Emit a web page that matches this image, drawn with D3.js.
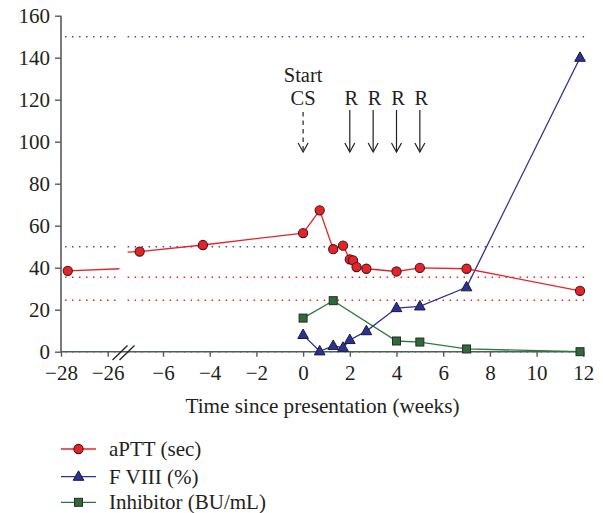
<!DOCTYPE html>
<html>
<head>
<meta charset="utf-8">
<script src="https://cdn.jsdelivr.net/npm/d3@7"></script>
<style>
  html, body { margin: 0; padding: 0; background: #fff; }
  svg { display: block; }
</style>
</head>
<body>
<svg id="chart" width="603" height="513"></svg>
<script>
// ---------- data ----------
const apttWeeks = [-27.71, -7, -4.29, 0, 0.71, 1.29, 1.71, 2, 2.14, 2.29, 2.71, 4, 5, 7, 11.86];
const apttValues = [38.5, 47.7, 50.8, 56.5, 67.3, 48.8, 50.5, 44, 43.5, 40.3, 39.5, 38.2, 39.9, 39.5, 29];
const f8Weeks = [0, 0.71, 1.29, 1.71, 2, 2.71, 4, 5, 7, 11.86];
const f8Values = [8, 0.2, 2.8, 1.9, 5.6, 9.8, 20.8, 21.6, 30.7, 140];
const inhWeeks = [0, 1.29, 4, 5, 7, 11.86];
const inhValues = [16, 24.3, 5.1, 4.6, 1.3, 0];
const leftTicks = [-28, -26];
const rightTicks = [-6, -4, -2, 0, 2, 4, 6, 8, 10, 12];
const yTicks = [0, 20, 40, 60, 80, 100, 120, 140, 160];
const refBlue = [150, 50];
const refRed = [35.5, 24.5];
const refGreen = [0];
const csWeek = [0];
const rWeeks = [2, 3, 4, 5];
const seriesNames = ["aPTT (sec)", "F VIII (%)", "Inhibitor (BU/mL)"];
const xTitle = "Time since presentation (weeks)";

// ---------- layout ----------
const FONT = '"Liberation Serif", "Times New Roman", serif';
const TXT = "#231f20";
const svg = d3.select("#chart");
const X0 = 61, AXIS_END = 584, BREAK_L = 119.4, BREAK_R = 127.6;
const y = d3.scaleLinear().domain([0, 160]).range([351.7, 15.7]);
const xL = d3.scaleLinear().domain([-28, -26]).range([X0, X0 + 46.7]);
const xR = d3.scaleLinear().domain([-6, 12]).range([163, 583.3]);
const xOf = w => (w < -16 ? xL(w) : xR(w));

const COL = {
  red: "#e5232b", redStroke: "#4d1414",
  blue: "#2e3192", blueStroke: "#1a1a45",
  green: "#2b7a3b", greenFill: "#2e6b39", greenStroke: "#2a2a2a",
  axis: "#58595b"
};

function txt(x, yy, s, size, anchor) {
  return svg.append("text").attr("x", x).attr("y", yy)
    .attr("text-anchor", anchor || "start")
    .style("font-family", FONT).style("font-size", size + "px").style("fill", TXT)
    .text(s);
}

const defs = svg.append("defs");
defs.append("clipPath").attr("id", "clipL").append("rect")
  .attr("x", 0).attr("y", 0).attr("width", BREAK_L).attr("height", 513);
defs.append("clipPath").attr("id", "clipR").append("rect")
  .attr("x", BREAK_R).attr("y", 0).attr("width", 603 - BREAK_R).attr("height", 513);

// ---------- reference dotted lines ----------
function refLines(vals, color) {
  vals.forEach(v => {
    [[65, BREAK_L], [BREAK_R, 586]].forEach(([a, b]) => {
      svg.append("line")
        .attr("x1", a).attr("x2", b).attr("y1", y(v)).attr("y2", y(v))
        .attr("stroke", color).attr("stroke-width", 1.5)
        .attr("stroke-dasharray", "1.5,5.5");
    });
  });
}

// ---------- axes ----------
svg.append("line").attr("x1", X0).attr("x2", X0).attr("y1", y(160)).attr("y2", y(0))
  .attr("stroke", COL.axis).attr("stroke-width", 1.6);
const yAxis = d3.axisLeft(y).tickValues(yTicks).tickSize(6).tickPadding(5).tickFormat(d3.format("d"));
const yG = svg.append("g").attr("transform", `translate(${X0},0)`).call(yAxis);
yG.select(".domain").remove();
yG.selectAll(".tick line").attr("stroke", COL.axis).attr("stroke-width", 1.4);
yG.selectAll(".tick text").style("font-family", FONT).style("font-size", "21px").style("fill", TXT);

svg.append("line").attr("x1", X0).attr("x2", AXIS_END).attr("y1", y(0)).attr("y2", y(0))
  .attr("stroke", COL.axis).attr("stroke-width", 1.6);
const fmtX = d => (d < 0 ? "\u2212" + Math.abs(d) : String(d));
[[xL, leftTicks], [xR, rightTicks]].forEach(([sc, tv]) => {
  const ax = d3.axisBottom(sc).tickValues(tv).tickSize(5).tickPadding(8).tickFormat(fmtX);
  const g = svg.append("g").attr("transform", `translate(0,${y(0)})`).call(ax);
  g.select(".domain").remove();
  g.selectAll(".tick line").attr("stroke", COL.axis).attr("stroke-width", 1.4);
  g.selectAll(".tick text").style("font-family", FONT).style("font-size", "21px").style("fill", TXT);
});

refLines(refGreen, COL.green);
refLines(refBlue, "#4b4ba8");
refLines(refRed, "#e5232b");

// break marks
[0, 7].forEach(dx => {
  svg.append("line")
    .attr("x1", 112.5 + dx).attr("y1", 360).attr("x2", 127.5 + dx).attr("y2", 345.5)
    .attr("stroke", TXT).attr("stroke-width", 1.3);
});

txt(322.5, 413, xTitle, 21.2, "middle");

// ---------- series ----------
function drawLine(ts, vs, color) {
  const pts = ts.map((t, i) => [t, vs[i]]);
  [["clipL", xL], ["clipR", xR]].forEach(([clip, sc]) => {
    svg.append("path")
      .attr("d", d3.line().x(d => sc(d[0])).y(d => y(d[1]))(pts))
      .attr("fill", "none").attr("stroke", color).attr("stroke-width", 1.3)
      .attr("clip-path", `url(#${clip})`);
  });
}
drawLine(inhWeeks, inhValues, COL.green);
drawLine(f8Weeks, f8Values, COL.blue);
drawLine(apttWeeks, apttValues, COL.red);

const triPath = (cx, cy, s) => `M${cx},${cy - s * 0.62}L${cx + s * 0.56},${cy + s * 0.38}L${cx - s * 0.56},${cy + s * 0.38}Z`;

function squares(ts, vs) {
  ts.forEach((t, i) => svg.append("rect")
    .attr("x", xOf(t) - 4).attr("y", y(vs[i]) - 4).attr("width", 8).attr("height", 8)
    .attr("fill", COL.greenFill).attr("stroke", COL.greenStroke).attr("stroke-width", 1));
}
function triangles(ts, vs) {
  ts.forEach((t, i) => svg.append("path")
    .attr("d", triPath(xOf(t), y(vs[i]), 9.5))
    .attr("fill", COL.blue).attr("stroke", COL.blueStroke).attr("stroke-width", 1));
}
function circles(ts, vs) {
  ts.forEach((t, i) => svg.append("circle")
    .attr("cx", xOf(t)).attr("cy", y(vs[i])).attr("r", 4.6)
    .attr("fill", COL.red).attr("stroke", COL.redStroke).attr("stroke-width", 1.1));
}
squares(inhWeeks, inhValues);
triangles(f8Weeks, f8Values);
circles(apttWeeks, apttValues);

// ---------- annotations ----------
function arrow(xp, dashed) {
  svg.append("line").attr("x1", xp).attr("x2", xp).attr("y1", dashed ? 112 : 110).attr("y2", dashed ? 150 : 151.5)
    .attr("stroke", TXT).attr("stroke-width", 1.2)
    .attr("stroke-dasharray", dashed ? "4.5,4" : null);
  svg.append("path").attr("d", `M${xp - 5},${143}L${xp},${152}L${xp + 5},${143}`)
    .attr("fill", "none").attr("stroke", TXT).attr("stroke-width", 1.2);
}
csWeek.forEach(w => {
  const xp = xR(w);
  txt(xp, 82, "Start", 20.5, "middle");
  txt(xp, 104.5, "CS", 20.5, "middle");
  arrow(xp, true);
});
rWeeks.forEach(w => {
  const xp = xR(w);
  txt(xp + 1.5, 104.5, "R", 20.5, "middle");
  arrow(xp, false);
});

// ---------- legend ----------
const legRows = [449, 476.7, 502.3];
const legColors = [COL.red, COL.blue, COL.green];
seriesNames.forEach((name, i) => {
  const cy = legRows[i];
  svg.append("line").attr("x1", 61).attr("x2", 96).attr("y1", cy).attr("y2", cy)
    .attr("stroke", legColors[i]).attr("stroke-width", 1.3);
  if (i === 0) svg.append("circle").attr("cx", 78.5).attr("cy", cy).attr("r", 4.6)
    .attr("fill", COL.red).attr("stroke", COL.redStroke).attr("stroke-width", 1.1);
  if (i === 1) svg.append("path").attr("d", triPath(78.5, cy, 9.5))
    .attr("fill", COL.blue).attr("stroke", COL.blueStroke).attr("stroke-width", 1);
  if (i === 2) svg.append("rect").attr("x", 74.5).attr("y", cy - 4).attr("width", 8).attr("height", 8)
    .attr("fill", COL.greenFill).attr("stroke", COL.greenStroke).attr("stroke-width", 1);
  txt(109, cy + 7, name, 21, "start");
});
</script>
</body>
</html>
